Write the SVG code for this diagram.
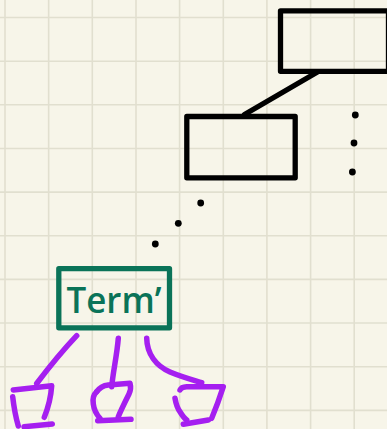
<svg xmlns="http://www.w3.org/2000/svg" width="387" height="429" viewBox="0 0 387 429">
<defs>
<style>
.grid line{stroke:#e1dfcf;stroke-width:1.6}
.blk{fill:none;stroke:#000;stroke-width:5.3;stroke-linejoin:round;stroke-linecap:round}
.dot{fill:#000}
.term{fill:none;stroke:#0a7358;stroke-width:5.3;stroke-linejoin:round}
.lbl{font-family:"Open Sans","Noto Sans",sans-serif;font-weight:600;font-size:36px;fill:#0a7358}
.pur{fill:none;stroke:#a51ff0;stroke-width:5.5;stroke-linecap:round;stroke-linejoin:round}
</style>
</defs>
<rect width="387" height="429" fill="#f7f5e9"/>
<g class="grid">
<line x1="5" y1="0" x2="5" y2="429"/>
<line x1="48.65" y1="0" x2="48.65" y2="429"/>
<line x1="92.3" y1="0" x2="92.3" y2="429"/>
<line x1="136" y1="0" x2="136" y2="429"/>
<line x1="179.6" y1="0" x2="179.6" y2="429"/>
<line x1="223.3" y1="0" x2="223.3" y2="429"/>
<line x1="266.9" y1="0" x2="266.9" y2="429"/>
<line x1="310.6" y1="0" x2="310.6" y2="429"/>
<line x1="354.2" y1="0" x2="354.2" y2="429"/>
<line x1="0" y1="17.5" x2="387" y2="17.5"/>
<line x1="0" y1="61.2" x2="387" y2="61.2"/>
<line x1="0" y1="104.8" x2="387" y2="104.8"/>
<line x1="0" y1="148.5" x2="387" y2="148.5"/>
<line x1="0" y1="192.1" x2="387" y2="192.1"/>
<line x1="0" y1="235.8" x2="387" y2="235.8"/>
<line x1="0" y1="279.4" x2="387" y2="279.4"/>
<line x1="0" y1="323" x2="387" y2="323"/>
<line x1="0" y1="366.7" x2="387" y2="366.7"/>
<line x1="0" y1="410.4" x2="387" y2="410.4"/>
</g>
<g id="connectors">
<line class="blk" x1="317.5" y1="72" x2="244.5" y2="114.5"/>
<g id="dots">
<circle class="dot" cx="355.3" cy="115" r="3.4"/>
<circle class="dot" cx="354" cy="143" r="3.4"/>
<circle class="dot" cx="352.4" cy="172" r="3.4"/>
<circle class="dot" cx="200.7" cy="203" r="3.4"/>
<circle class="dot" cx="178.3" cy="223.3" r="3.4"/>
<circle class="dot" cx="155.3" cy="244" r="3.4"/>
</g>
<path class="pur" d="M76.7,335.7 C66,347 50,366 36.7,383.5"/>
<path class="pur" d="M118.3,338.3 C117,355 113,372 111.7,386.7"/>
<path class="pur" d="M146.7,338.3 C147,354 156,366 170,372 C182,377 193,380 201.7,382.7"/>
</g>
<g id="node-top">
<rect class="blk" x="280.5" y="10.8" width="108" height="60.5"/>
</g>
<g id="node-mid">
<rect class="blk" x="186.8" y="116.5" width="108.4" height="61.3"/>
</g>
<g id="node-term">
<rect class="term" x="58.8" y="268.7" width="110.7" height="59.1"/>
<text class="lbl" x="66.5" y="312.5" textLength="95" lengthAdjust="spacingAndGlyphs">Term’</text>
</g>
<g id="leaf-1">
<path class="pur" d="M13.3,390 L51.7,385.7 C51,396 48,408 44.3,417.3"/>
<path class="pur" d="M12.7,396.7 C14,408 16,418 18.3,426"/>
<path class="pur" d="M24,426.7 L52.3,424"/>
</g>
<g id="leaf-2">
<path class="pur" d="M96.7,391.7 C100,387 104,385.5 108.3,385 L130,383.3 C131,387 131,390 129,394 C125,402 121,410 118.3,416.7"/>
<path class="pur" d="M96.7,391.7 C93,395 92.5,399 93.3,404 C94,410 97,415 100,418.3"/>
<path class="pur" d="M97.7,420.7 L131,419.3"/>
</g>
<g id="leaf-3">
<path class="pur" d="M180,390 C181,387.5 183,386.8 186.7,386.7 L223.3,386.7 C220,397 216,408 211.7,418.3"/>
<path class="pur" d="M175,398.3 C176,404 177,408 180,411.7 C182,415 184,418 186.7,420"/>
<path class="pur" d="M183.3,424.3 L208.3,420"/>
</g>
</svg>
